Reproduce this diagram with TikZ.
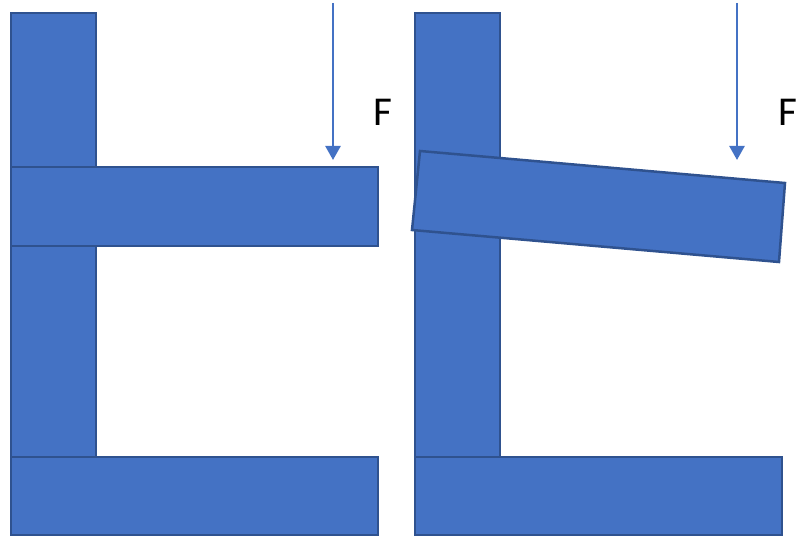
\documentclass[tikz,border=0pt]{standalone}
\usepackage{fontspec}
\setmainfont{Carlito}
\usetikzlibrary{arrows.meta}
\definecolor{barfill}{HTML}{4472C4}
\definecolor{barline}{HTML}{2F528F}
\tikzset{
  bar/.style={fill=barfill, draw=barline, line width=2.5pt, line join=miter},
  force/.style={draw=barfill, line width=2.5pt, -{Triangle[length=14pt,width=15pt]}},
  flabel/.style={font=\fontsize{41}{41}\selectfont, inner sep=0pt}
}
\begin{document}
\begin{tikzpicture}[x=1pt,y=-1pt]
\useasboundingbox (0,0) rectangle (796,537);
% left
\path[bar] (11,13) rectangle (96,535);
\path[bar] (11,167) rectangle (378,246);
\path[bar] (11,457) rectangle (378,535);
\coordinate (a1s) at (333,3);
\coordinate (a1e) at (333,160);
\draw[force] (a1s) -- (a1e);
\node[flabel] (f1) at (383,112) {F};
% right
\path[bar] (415,13) rectangle (500,535);
\path[bar] (415,457) rectangle (782,535);
\path[bar] (420,151) -- (785,183) -- (779,262) -- (412,230) -- cycle;
\coordinate (a2s) at (737,3);
\coordinate (a2e) at (737,160);
\draw[force] (a2s) -- (a2e);
\node[flabel] (f2) at (788,112) {F};
\end{tikzpicture}
\end{document}
